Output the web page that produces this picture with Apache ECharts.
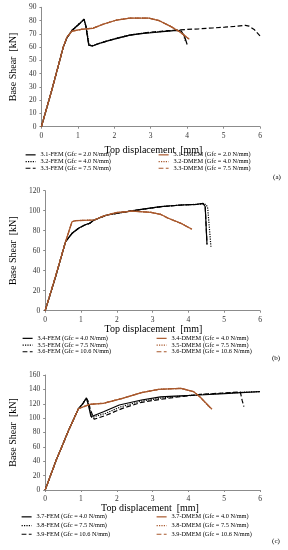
<!DOCTYPE html>
<html><head><meta charset="utf-8">
<script src="https://cdn.jsdelivr.net/npm/echarts@6/dist/echarts.min.js"></script>
<style>html,body{margin:0;padding:0;background:#fff}#c{width:288px;height:550px}</style>
</head><body><div id="c"></div>
<script>
// ---------- DATA ----------
const xTicks = [0, 1, 2, 3, 4, 5, 6];
const yMaxA = 90, yMaxB = 120, yMaxC = 160;
const namesA = ['3.1-FEM (Gfc = 2.0 N/mm)', '3.2-FEM (Gfc = 4.0 N/mm)', '3.3-FEM (Gfc = 7.5 N/mm)',
                '3.1-DMEM (Gfc = 2.0 N/mm)', '3.2-DMEM (Gfc = 4.0 N/mm)', '3.3-DMEM (Gfc = 7.5 N/mm)'];
const namesB = ['3.4-FEM (Gfc = 4.0 N/mm)', '3.5-FEM (Gfc = 7.5 N/mm)', '3.6-FEM (Gfc = 10.6 N/mm)',
                '3.4-DMEM (Gfc = 4.0 N/mm)', '3.5-DMEM (Gfc = 7.5 N/mm)', '3.6-DMEM (Gfc = 10.6 N/mm)'];
const namesC = ['3.7-FEM (Gfc = 4.0 N/mm)', '3.8-FEM (Gfc = 7.5 N/mm)', '3.9-FEM (Gfc = 10.6 N/mm)',
                '3.7-DMEM (Gfc = 4.0 N/mm)', '3.8-DMEM (Gfc = 7.5 N/mm)', '3.9-DMEM (Gfc = 10.6 N/mm)'];

// panel (a)
const fem31 = [[0,0],[0.3,29],[0.6,60],[0.7,67],[0.84,72.5],[1.0,76.5],[1.1,79],[1.17,81],[1.22,76],[1.3,61.5],[1.4,60.8],[1.54,62.3],[1.8,64.5],[2.1,66.8],[2.43,69],[2.8,70.3],[3.1,71],[3.4,71.8],[3.7,72.5],[3.84,72],[3.93,68],[4.0,62]];
const fem32 = [[0,0],[0.3,29],[0.6,60],[0.7,67],[0.84,72.8],[1.0,76.8],[1.1,79.3],[1.17,80.8],[1.23,75],[1.31,61.8],[1.42,61],[1.56,62.6],[1.8,64.8],[2.1,67],[2.43,69.2],[2.8,70.5],[3.1,71.3],[3.4,72],[3.7,72.8],[3.82,72.5],[3.9,69],[3.96,64]];
const fem33 = [[0,0],[0.3,29],[0.6,60],[0.7,67],[0.84,72.5],[1.0,76.5],[1.1,79],[1.17,81],[1.22,76],[1.3,61.5],[1.4,60.8],[1.54,62.3],[1.8,64.5],[2.1,66.8],[2.43,69],[2.8,70.6],[3.1,71.5],[3.5,72.4],[3.8,73],[4.32,73.8],[4.7,74.4],[5.03,75],[5.3,75.6],[5.6,76.4],[5.7,75.8],[5.85,73],[6.0,68.5]];
const dmem31 = [[0,0],[0.3,29],[0.6,60],[0.7,67.5],[0.84,72],[1.1,73.4],[1.41,74.1],[1.72,77.4],[2.07,80.4],[2.43,81.8],[2.95,81.8],[3.22,80],[3.53,75.8],[3.79,71.6],[4.06,65.9]];
const dmem32 = [[0,0],[0.3,29],[0.6,60],[0.7,67.5],[0.84,72],[1.1,73.5],[1.41,74.3],[1.72,77.6],[2.07,80.5],[2.43,81.9],[2.95,81.9],[3.22,80.2],[3.53,76],[3.79,71.8],[4.0,67.5]];
const dmem33 = [[0,0],[0.3,29],[0.6,60],[0.7,67.5],[0.84,72],[1.1,73.4],[1.41,74.2],[1.72,77.5],[2.07,80.4],[2.43,81.8],[2.95,81.8],[3.22,80.1],[3.53,75.9],[3.79,71.7],[4.03,66.5]];

// panel (b)
const fem34 = [[0,0],[0.3,35],[0.57,69],[0.75,77.4],[0.93,82.4],[1.1,85.7],[1.24,87.4],[1.37,90.7],[1.72,95.7],[2.16,98.4],[2.69,101.4],[3.22,104],[3.79,105.7],[4.23,106.4],[4.41,107.4],[4.47,104],[4.52,66]];
const fem35 = [[0,0],[0.3,35],[0.57,69],[0.75,77.4],[0.93,82.4],[1.1,85.7],[1.24,87.4],[1.37,90.7],[1.72,95.7],[2.16,98.4],[2.69,101.4],[3.22,104],[3.79,105.7],[4.23,106.4],[4.41,107],[4.5,106],[4.54,102.4],[4.63,64]];
const fem36 = [[0,0],[0.3,35],[0.57,69],[0.75,77.2],[0.93,82.2],[1.1,85.5],[1.24,87.3],[1.37,90.6],[1.72,95.6],[2.16,98.3],[2.69,101.3],[3.22,103.9],[3.79,105.6],[4.23,106.3],[4.41,107.2],[4.47,103.5],[4.52,67]];
const dmem34 = [[0,0],[0.26,30.7],[0.57,69],[0.75,89],[0.84,90],[1.37,90.7],[1.63,94.7],[1.98,98],[2.43,99.5],[2.95,98.4],[3.22,96.4],[3.44,92.4],[3.79,87.4],[4.1,81.4]];
const dmem35 = [[0,0],[0.26,30.7],[0.57,69],[0.75,89],[0.84,90],[1.37,90.8],[1.63,94.8],[1.98,98.1],[2.43,99.6],[2.95,98.5],[3.22,96.5],[3.44,92.5],[3.79,87.5],[4.08,81.8]];
const dmem36 = [[0,0],[0.26,30.7],[0.57,69],[0.75,89],[0.84,90],[1.37,90.7],[1.63,94.6],[1.98,98],[2.43,99.5],[2.95,98.4],[3.22,96.3],[3.44,92.3],[3.79,87.3],[4.09,81.6]];

// panel (c)
const fem37 = [[0,0],[0.31,41.7],[0.66,83.5],[0.93,113],[1.05,120],[1.15,128],[1.2,120],[1.28,102],[1.32,99.7],[1.63,108.9],[2.07,118.3],[2.69,125.2],[3.22,129.5],[3.62,130.7],[4.32,132.2],[5.0,134],[5.47,135.4],[6.0,137]];
const fem38 = [[0,0],[0.31,41.7],[0.66,83.5],[0.93,113],[1.05,120],[1.15,127.5],[1.22,118],[1.3,101],[1.35,99],[1.68,106.5],[2.1,115.5],[2.69,123.8],[3.22,127.8],[3.6,129.8],[4.32,132.8],[5.0,134.6],[5.47,135.8],[6.0,137]];
const fem39 = [[0,0],[0.31,41.7],[0.66,83.5],[0.93,113],[1.05,120],[1.15,128],[1.22,122],[1.26,112],[1.37,98.4],[1.72,104.3],[2.16,113.6],[2.69,122],[3.22,126.1],[3.6,128.8],[4.32,133],[5.0,135],[5.45,136.5],[5.5,125],[5.55,116]];
const dmem37 = [[0,0],[0.31,41.7],[0.66,83.5],[0.93,113],[1.24,119],[1.63,120.6],[2.16,127.5],[2.69,135.4],[3.17,140],[3.79,141.5],[4.15,136.8],[4.32,129.8],[4.66,112.3]];
const dmem38 = [[0,0],[0.31,41.7],[0.66,83.5],[0.93,113],[1.24,119.2],[1.63,120.8],[2.16,127.6],[2.69,135.5],[3.17,140.1],[3.79,141.4],[4.15,136.5],[4.32,129.4],[4.62,113.5]];
const dmem39 = [[0,0],[0.31,41.7],[0.66,83.5],[0.93,113],[1.24,119.1],[1.63,120.7],[2.16,127.5],[2.69,135.4],[3.17,140],[3.79,141.5],[4.15,136.7],[4.32,129.6],[4.64,112.8]];

// ---------- CHART ----------
const FONT = 'Liberation Serif';
const BLACK = '#000000', BROWN = '#A8582C';
const chart = echarts.init(document.getElementById('c'), null, {renderer: 'canvas'});

const grids = [
  {left: 33.3, width: 226.7, top: 7.3, height: 119.4},
  {left: 33.3, width: 226.7, top: 190.7, height: 120},
  {left: 33.3, width: 226.7, top: 375, height: 115}
];
const yMax = [yMaxA, yMaxB, yMaxC];
const yInt = [10, 20, 20];
const axisLine = {show: true, lineStyle: {color: '#8c8c8c', width: 1}};
const labelStyle = {fontFamily: FONT, fontSize: 7.5, color: '#333'};

const xAxes = grids.map((g, i) => ({
  type: 'value', gridIndex: i, min: xTicks[0], max: xTicks[xTicks.length - 1], interval: 1,
  axisLine, axisTick: {show: true, length: 2, lineStyle: {color: '#8c8c8c'}},
  splitLine: {show: false}, axisLabel: Object.assign({margin: 5}, labelStyle)
}));
const yAxes = grids.map((g, i) => ({
  type: 'value', gridIndex: i, min: 0, max: yMax[i], interval: yInt[i],
  axisLine, axisTick: {show: true, length: 2, lineStyle: {color: '#8c8c8c'}},
  splitLine: {show: false}, axisLabel: Object.assign({margin: 5}, labelStyle),
  name: 'Base Shear  [kN]', nameLocation: 'middle', nameGap: 15,
  nameTextStyle: {fontFamily: FONT, fontSize: 10, color: '#000'}
}));

function mk(name, data, idx, color, type) {
  return {name, type: 'line', data, xAxisIndex: idx, yAxisIndex: idx, symbol: 'none',
    showSymbol: false, animation: false,
    lineStyle: {color, width: 1.2, type}, itemStyle: {color}};
}
const series = [
  mk(namesA[0], fem31, 0, BLACK, 'solid'), mk(namesA[1], fem32, 0, BLACK, 'dotted'), mk(namesA[2], fem33, 0, BLACK, 'dashed'),
  mk(namesA[3], dmem31, 0, BROWN, 'solid'), mk(namesA[4], dmem32, 0, BROWN, 'dotted'), mk(namesA[5], dmem33, 0, BROWN, 'dashed'),
  mk(namesB[0], fem34, 1, BLACK, 'solid'), mk(namesB[1], fem35, 1, BLACK, 'dotted'), mk(namesB[2], fem36, 1, BLACK, 'dashed'),
  mk(namesB[3], dmem34, 1, BROWN, 'solid'), mk(namesB[4], dmem35, 1, BROWN, 'dotted'), mk(namesB[5], dmem36, 1, BROWN, 'dashed'),
  mk(namesC[0], fem37, 2, BLACK, 'solid'), mk(namesC[1], fem38, 2, BLACK, 'dotted'), mk(namesC[2], fem39, 2, BLACK, 'dashed'),
  mk(namesC[3], dmem37, 2, BROWN, 'solid'), mk(namesC[4], dmem38, 2, BROWN, 'dotted'), mk(namesC[5], dmem39, 2, BROWN, 'dashed')
];

function lg(names, left, top, lh) {
  return {data: names, left, top, orient: 'vertical', itemWidth: 10, itemHeight: 4, itemGap: 0,
    padding: 0, selectedMode: false,
    itemStyle: {opacity: 0, borderWidth: 0},
    lineStyle: {width: 1.2},
    textStyle: {fontFamily: FONT, fontSize: 6.3, color: '#000', lineHeight: lh}};
}
const legends = [
  lg(namesA.slice(0, 3), 25, 151.5, 6.7), lg(namesA.slice(3), 158, 151.5, 6.7),
  lg(namesB.slice(0, 3), 22, 335, 6.7), lg(namesB.slice(3), 156, 335, 6.7),
  lg(namesC.slice(0, 3), 21, 512.5, 8.7), lg(namesC.slice(3), 156, 512.5, 8.7)
];

function txt(t, x, y, size) {
  return {type: 'text', x, y, style: {text: t, fontFamily: FONT, fontSize: size, fill: '#000',
    textAlign: 'center', textVerticalAlign: 'middle'}};
}
const graphic = [
  txt('Top displacement  [mm]', 153.5, 150, 10),
  txt('Top displacement  [mm]', 153.5, 329, 10),
  txt('Top displacement  [mm]', 150, 508.3, 10),
  txt('(a)', 277, 176.7, 7), txt('(b)', 276, 357.7, 7), txt('(c)', 276, 540.7, 7)
];

chart.setOption({
  animation: false, backgroundColor: '#fff',
  grid: grids, xAxis: xAxes, yAxis: yAxes, series, legend: legends, graphic
});
</script></body></html>
